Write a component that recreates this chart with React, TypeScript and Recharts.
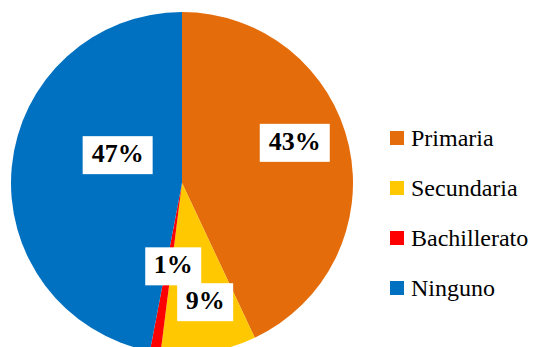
import { PieChart, Pie, Cell } from "recharts";

const categories = ["Primaria", "Secundaria", "Bachillerato", "Ninguno"];
const percentages = [43, 9, 1, 47];
const sliceColors = ["#E46C0A", "#FFC800", "#FF0000", "#0070C0"];

// where each value box sits: fraction of the radius and angle shift (deg, counter-clockwise)
const labelPlacement = [
  { rf: 0.7, shift: 7 },
  { rf: 0.71, shift: 2 },
  { rf: 0.49, shift: 3 },
  { rf: 0.41, shift: -18 },
];

const data = categories.map((name, i) => ({ name, value: percentages[i] }));

const RAD = Math.PI / 180;
const serif = "Liberation Serif, Times New Roman, serif";

function ValueLabel(props: any) {
  const { cx, cy, midAngle, outerRadius, index, value } = props;
  const place = labelPlacement[index];
  const a = (midAngle + place.shift) * RAD;
  const r = outerRadius * place.rf;
  const x = cx + r * Math.cos(a);
  const y = cy - r * Math.sin(a);
  const text = `${value}%`;
  const w = text.length * 14 + 28;
  const h = 38;
  return (
    <g>
      <rect x={x - w / 2} y={y - h / 2} width={w} height={h} fill="#fff" />
      <text
        x={x}
        y={y + 1}
        textAnchor="middle"
        dominantBaseline="middle"
        fontFamily={serif}
        fontWeight="bold"
        fontSize={26}
        fill="#000"
      >
        {text}
      </text>
    </g>
  );
}

export default function App() {
  return (
    <div style={{ position: "absolute", left: 0, top: 0, width: 557, height: 347, background: "#fff" }}>
      <PieChart width={557} height={347} margin={{ top: 0, right: 0, bottom: 0, left: 0 }}>
        <Pie
          data={data}
          dataKey="value"
          nameKey="name"
          cx={182}
          cy={183}
          outerRadius={171}
          startAngle={90}
          endAngle={-270}
          stroke="none"
          label={ValueLabel}
          labelLine={false}
          isAnimationActive={false}
        >
          {data.map((d, i) => (
            <Cell key={d.name} fill={sliceColors[i]} />
          ))}
        </Pie>
      </PieChart>
      {/* legend: square swatch + name, one row per category */}
      <div style={{ position: "absolute", left: 390, top: 113, fontFamily: serif, fontSize: 24, color: "#000" }}>
        {categories.map((c, i) => (
          <div key={c} style={{ display: "flex", alignItems: "center", height: 50 }}>
            <span
              style={{ width: 14, height: 14, background: sliceColors[i], marginRight: 7, display: "inline-block" }}
            />
            <span>{c}</span>
          </div>
        ))}
      </div>
    </div>
  );
}
